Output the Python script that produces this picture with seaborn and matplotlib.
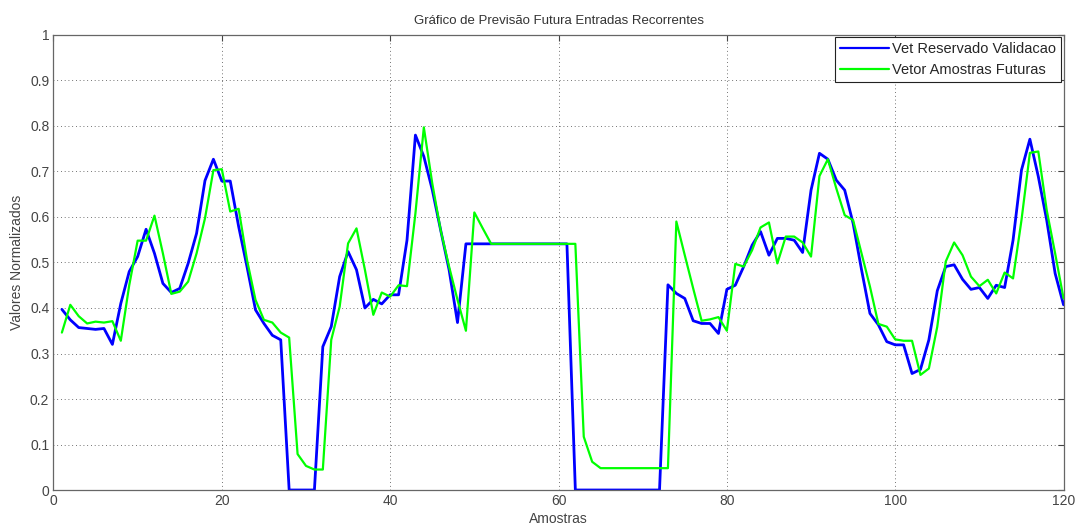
import numpy as np
import pandas as pd
import matplotlib
matplotlib.use("Agg")
import matplotlib.pyplot as plt
import seaborn as sns

samples = list(range(1, 121))

vet_reservado = [
    0.397, 0.374, 0.357, 0.355, 0.353, 0.355, 0.320, 0.410, 0.480, 0.513,
    0.573, 0.520, 0.454, 0.434, 0.443, 0.498, 0.564, 0.680, 0.727, 0.679,
    0.679, 0.579, 0.490, 0.396, 0.366, 0.340, 0.330, 0.000, 0.000, 0.000,
    0.000, 0.315, 0.359, 0.469, 0.524, 0.484, 0.400, 0.419, 0.409, 0.429,
    0.429, 0.549, 0.780, 0.733, 0.660, 0.571, 0.484, 0.368, 0.541, 0.541,
    0.541, 0.541, 0.541, 0.541, 0.541, 0.541, 0.541, 0.541, 0.541, 0.541,
    0.541, 0.000, 0.000, 0.000, 0.000, 0.000, 0.000, 0.000, 0.000, 0.000,
    0.000, 0.000, 0.451, 0.432, 0.421, 0.372, 0.366, 0.366, 0.344, 0.441,
    0.450, 0.491, 0.538, 0.568, 0.516, 0.553, 0.553, 0.549, 0.522, 0.659,
    0.740, 0.727, 0.681, 0.659, 0.586, 0.484, 0.388, 0.363, 0.326, 0.319,
    0.319, 0.256, 0.265, 0.330, 0.438, 0.491, 0.495, 0.463, 0.441, 0.445,
    0.421, 0.450, 0.445, 0.549, 0.703, 0.771, 0.689, 0.593, 0.476, 0.407,
]

vetor_futuras = [
    0.346, 0.407, 0.382, 0.366, 0.370, 0.368, 0.371, 0.328, 0.450, 0.548,
    0.548, 0.603, 0.520, 0.431, 0.436, 0.458, 0.520, 0.597, 0.703, 0.705,
    0.612, 0.618, 0.505, 0.418, 0.374, 0.368, 0.346, 0.335, 0.079, 0.053,
    0.045, 0.045, 0.330, 0.403, 0.542, 0.575, 0.484, 0.385, 0.434, 0.425,
    0.450, 0.448, 0.608, 0.797, 0.674, 0.571, 0.491, 0.418, 0.350, 0.610,
    0.575, 0.541, 0.541, 0.541, 0.541, 0.541, 0.541, 0.541, 0.541, 0.541,
    0.541, 0.541, 0.117, 0.062, 0.048, 0.048, 0.048, 0.048, 0.048, 0.048,
    0.048, 0.048, 0.048, 0.590, 0.516, 0.443, 0.372, 0.375, 0.380, 0.350,
    0.497, 0.491, 0.527, 0.577, 0.588, 0.498, 0.557, 0.557, 0.544, 0.513,
    0.690, 0.727, 0.663, 0.604, 0.593, 0.520, 0.447, 0.365, 0.359, 0.331,
    0.328, 0.328, 0.253, 0.267, 0.359, 0.502, 0.544, 0.516, 0.469, 0.448,
    0.462, 0.432, 0.478, 0.465, 0.593, 0.741, 0.744, 0.615, 0.520, 0.421,
]

x_ticks = [0, 20, 40, 60, 80, 100, 120]
y_ticks = [0, 0.1, 0.2, 0.3, 0.4, 0.5, 0.6, 0.7, 0.8, 0.9, 1]
y_tick_labels = ["0", "0.1", "0.2", "0.3", "0.4", "0.5", "0.6", "0.7", "0.8", "0.9", "1"]

sns.set_style("white")
plt.rcParams['font.family'] = ['Liberation Sans', 'DejaVu Sans']

fig = plt.figure(figsize=(10.78, 5.27), dpi=100)
ax = fig.add_axes([0.0496, 0.0702, 0.937, 0.8634])

df = pd.DataFrame({"Amostras": samples, "a": vet_reservado, "b": vetor_futuras})
sns.lineplot(data=df, x="Amostras", y="a", ax=ax, color=(0, 0, 1), lw=2.0,
             label="Vet Reservado Validacao")
sns.lineplot(data=df, x="Amostras", y="b", ax=ax, color=(0, 1, 0), lw=1.6,
             label="Vetor Amostras Futuras")

ax.set_xlim(0, 120)
ax.set_ylim(0, 1)
ax.set_xticks(x_ticks)
ax.set_yticks(y_ticks)
ax.set_yticklabels(y_tick_labels)
ax.grid(True, linestyle=(0, (1, 3.5)), color="#444444", linewidth=0.6)
ax.tick_params(direction="in", top=True, right=True, length=4, width=0.8,
               labelsize=10, colors="#444444", labelcolor="#444444", pad=3)
for s in ax.spines.values():
    s.set_color("#666666")
    s.set_linewidth(0.9)

ax.set_title("Gráfico de Previsão Futura Entradas Recorrentes", fontsize=9.5,
             color="#333333", pad=8)
ax.set_xlabel("Amostras", fontsize=10, color="#444444", labelpad=3)
ax.set_ylabel("Valores Normalizados", fontsize=10, color="#444444", labelpad=4)

leg = ax.legend(loc="upper right", fancybox=False, framealpha=1, edgecolor="#222222",
                fontsize=10.5, borderaxespad=0.15, handlelength=3.4, borderpad=0.35,
                labelspacing=0.45, handletextpad=0.2)
leg.get_frame().set_linewidth(0.8)
for line in leg.get_lines():
    line.set_linewidth(1.6)

fig.savefig("out.png", dpi=100, facecolor="white")
